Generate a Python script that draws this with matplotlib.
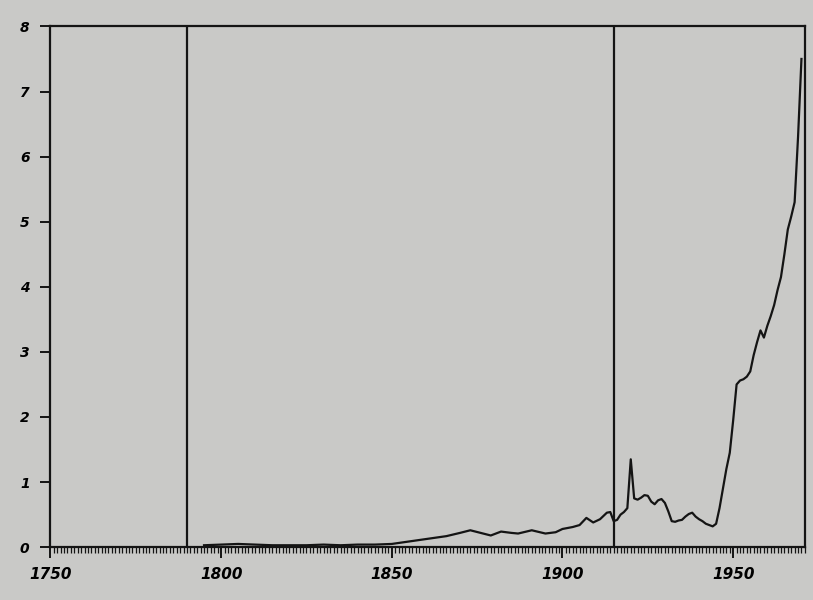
import numpy as np
import matplotlib.pyplot as plt

years = [1795, 1800, 1805, 1810, 1815, 1820, 1825, 1830, 1835, 1840, 1845, 1850,
         1854, 1858, 1862, 1866, 1870, 1873, 1876, 1879, 1882, 1885, 1887, 1891,
         1895, 1898, 1900, 1903, 1905, 1907, 1909, 1911, 1913, 1914, 1915, 1916,
         1917, 1918, 1919, 1920, 1921, 1922, 1923, 1924, 1925, 1926, 1927, 1928,
         1929, 1930, 1931, 1932, 1933, 1934, 1935, 1936, 1937, 1938, 1939, 1940,
         1941, 1942, 1943, 1944, 1945, 1946, 1947, 1948, 1949, 1950, 1951, 1952,
         1953, 1954, 1955, 1956, 1957, 1958, 1959, 1960, 1961, 1962, 1963, 1964,
         1965, 1966, 1967, 1968, 1969, 1970]
values = [0.03, 0.04, 0.05, 0.04, 0.03, 0.03, 0.03, 0.04, 0.03, 0.04, 0.04, 0.05,
          0.08, 0.11, 0.14, 0.17, 0.22, 0.26, 0.22, 0.18, 0.24, 0.22, 0.21, 0.26,
          0.21, 0.23, 0.28, 0.31, 0.34, 0.45, 0.38, 0.43, 0.53, 0.54, 0.40, 0.42,
          0.50, 0.54, 0.60, 1.35, 0.75, 0.73, 0.76, 0.80, 0.79, 0.70, 0.66, 0.72,
          0.74, 0.68, 0.55, 0.40, 0.39, 0.41, 0.42, 0.47, 0.51, 0.53, 0.47, 0.43,
          0.40, 0.36, 0.34, 0.32, 0.36, 0.60, 0.90, 1.20, 1.45, 1.95, 2.50, 2.56,
          2.58, 2.62, 2.70, 2.95, 3.15, 3.33, 3.22, 3.40, 3.55, 3.72, 3.95, 4.15,
          4.50, 4.88, 5.08, 5.30, 6.30, 7.50]

# vertical marker lines
markers = [1790, 1915]

x_major = [1750, 1800, 1850, 1900, 1950]
y_major = [0, 1, 2, 3, 4, 5, 6, 7, 8]

paper = '#c9c9c7'
ink = '#141414'

fig = plt.figure(figsize=(8.13, 6.0), dpi=100, facecolor=paper)
ax = fig.add_axes([0.062, 0.088, 0.928, 0.868], facecolor=paper)

ax.plot(years, values, color=ink, linewidth=1.6)
for m in markers:
    ax.axvline(m, color=ink, linewidth=1.6)

ax.set_xlim(1750, 1971)
ax.set_ylim(0, 8)

ax.set_xticks(x_major)
ax.set_xticks(np.arange(1750, 1972, 1), minor=True)
ax.set_yticks(y_major)
ax.set_xticklabels([str(x) for x in x_major], fontsize=11, fontweight='bold', style='italic')
ax.set_yticklabels([str(y) for y in y_major], fontsize=10, fontweight='bold', style='italic')

ax.tick_params(axis='x', which='major', direction='out', length=8, width=1.4, color=ink, pad=6)
ax.tick_params(axis='x', which='minor', direction='out', length=4, width=0.9, color=ink)
ax.tick_params(axis='y', which='major', direction='out', length=7, width=1.4, color=ink, pad=8)

for side in ax.spines.values():
    side.set_color(ink)
    side.set_linewidth(1.6)

fig.savefig('out.png', dpi=100, facecolor=paper)
